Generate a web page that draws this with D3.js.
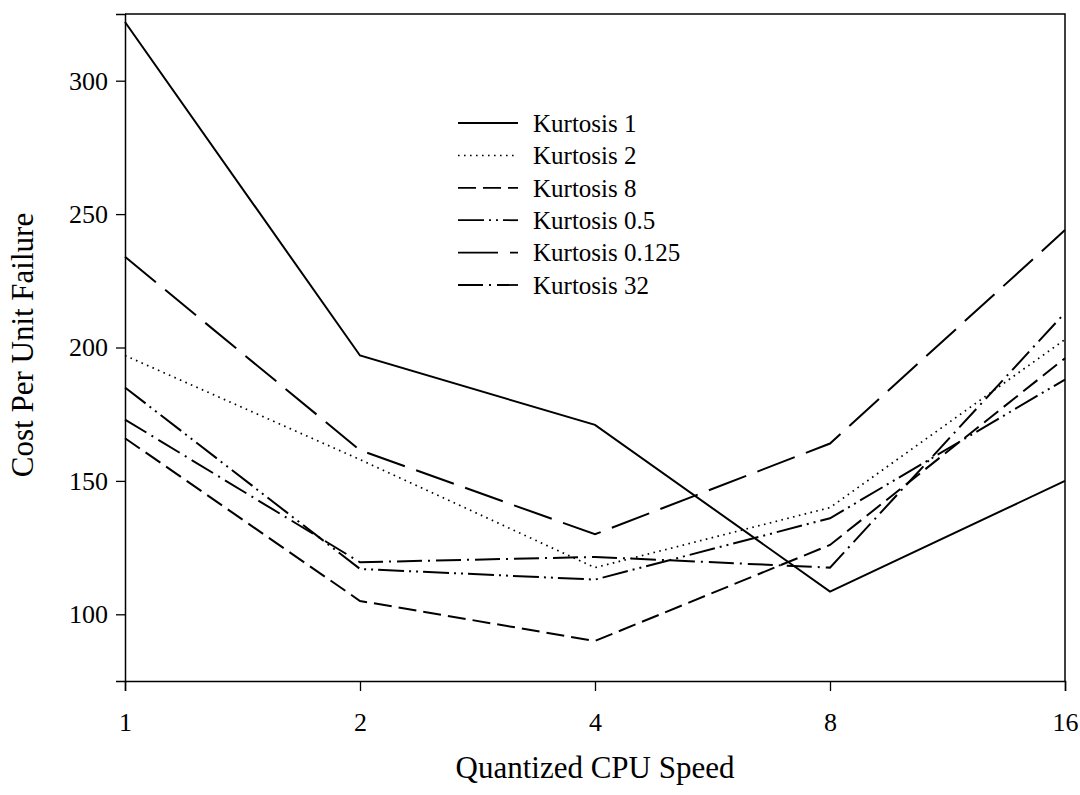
<!DOCTYPE html>
<html>
<head>
<meta charset="utf-8">
<title>Cost Per Unit Failure</title>
<script src="https://d3js.org/d3.v7.min.js"></script>
<style>
  body { margin: 0; background: #fff; }
  text { font-family: "Liberation Serif", "Times New Roman", serif; fill: #000; }
</style>
</head>
<body>
<script>
// data
var speeds = [1, 2, 4, 8, 16];
var seriesNames = ["Kurtosis 1", "Kurtosis 2", "Kurtosis 8", "Kurtosis 0.5", "Kurtosis 0.125", "Kurtosis 32"];
var kurt1    = [322, 197, 171, 108.5, 150];
var kurt2    = [197, 158, 117.5, 140, 203];
var kurt8    = [166, 105, 90, 126, 196];
var kurt05   = [185, 117, 113, 136, 188];
var kurt0125 = [234, 161.5, 130, 164, 244];
var kurt32   = [173, 119.5, 121.5, 117.5, 213];
var yTicks = [100, 150, 200, 250, 300];

var series = [kurt1, kurt2, kurt8, kurt05, kurt0125, kurt32];
var dashes = ["none", "1.6,4.4", "18,7", "26,5,2,5,2,5", "40,12", "25,6,2,6"];

var width = 1080, height = 795;
var plotLeft = 125, plotRight = 1065, plotTop = 14, plotBottom = 681;

var svg = d3.select("body").append("svg")
  .attr("width", width)
  .attr("height", height);

var x = d3.scaleLog().base(2)
  .domain([1, 16])
  .range([plotLeft, plotRight]);

var y = d3.scaleLinear()
  .domain([75, 325])
  .range([plotBottom, plotTop]);

// frame (top and right)
svg.append("path")
  .attr("d", "M" + plotLeft + "," + plotTop + "H" + plotRight + "V" + plotBottom)
  .attr("fill", "none")
  .attr("stroke", "#000")
  .attr("stroke-width", 1.5);

// axes
var xAxis = svg.append("g")
  .attr("transform", "translate(0," + plotBottom + ")")
  .call(d3.axisBottom(x).tickValues(speeds).tickFormat(d3.format("d")).tickSizeOuter(0).tickSize(10).tickPadding(22));

var yAxis = svg.append("g")
  .attr("transform", "translate(" + plotLeft + ",0)")
  .call(d3.axisLeft(y).tickValues(yTicks).tickSizeOuter(0).tickSize(9).tickPadding(8));

[xAxis, yAxis].forEach(function(g) {
  g.select(".domain").attr("stroke-width", 1.5);
  g.selectAll(".tick line").attr("stroke-width", 1.3);
  g.selectAll(".tick text")
    .style("font-family", "'Liberation Serif', serif")
    .style("font-size", "26px")
    .attr("fill", "#000");
});

// lines
var line = d3.line()
  .x(function(d, i) { return x(speeds[i]); })
  .y(function(d) { return y(d); });

svg.selectAll(".series")
  .data(series)
  .enter()
  .append("path")
  .attr("class", "series")
  .attr("d", line)
  .attr("fill", "none")
  .attr("stroke", "#000")
  .attr("stroke-width", function(d, i) { return i == 1 ? 1.7 : 2; })
  .attr("stroke-dasharray", function(d, i) { return dashes[i]; });

// legend
var legend = svg.append("g");
seriesNames.forEach(function(name, i) {
  var ly = 123 + i * 32.4;
  legend.append("line")
    .attr("x1", 458).attr("x2", 518)
    .attr("y1", ly).attr("y2", ly)
    .attr("stroke", "#000")
    .attr("stroke-width", i == 1 ? 1.5 : 1.8)
    .attr("stroke-dasharray", dashes[i]);
  legend.append("text")
    .attr("x", 533)
    .attr("y", ly)
    .attr("dy", "0.35em")
    .style("font-size", "25px")
    .text(name);
});

// axis titles
svg.append("text")
  .attr("x", (plotLeft + plotRight) / 2)
  .attr("y", 778)
  .attr("text-anchor", "middle")
  .style("font-size", "31px")
  .text("Quantized CPU Speed");

svg.append("text")
  .attr("transform", "translate(33,345) rotate(-90)")
  .attr("text-anchor", "middle")
  .style("font-size", "31px")
  .text("Cost Per Unit Failure");
</script>
</body>
</html>
